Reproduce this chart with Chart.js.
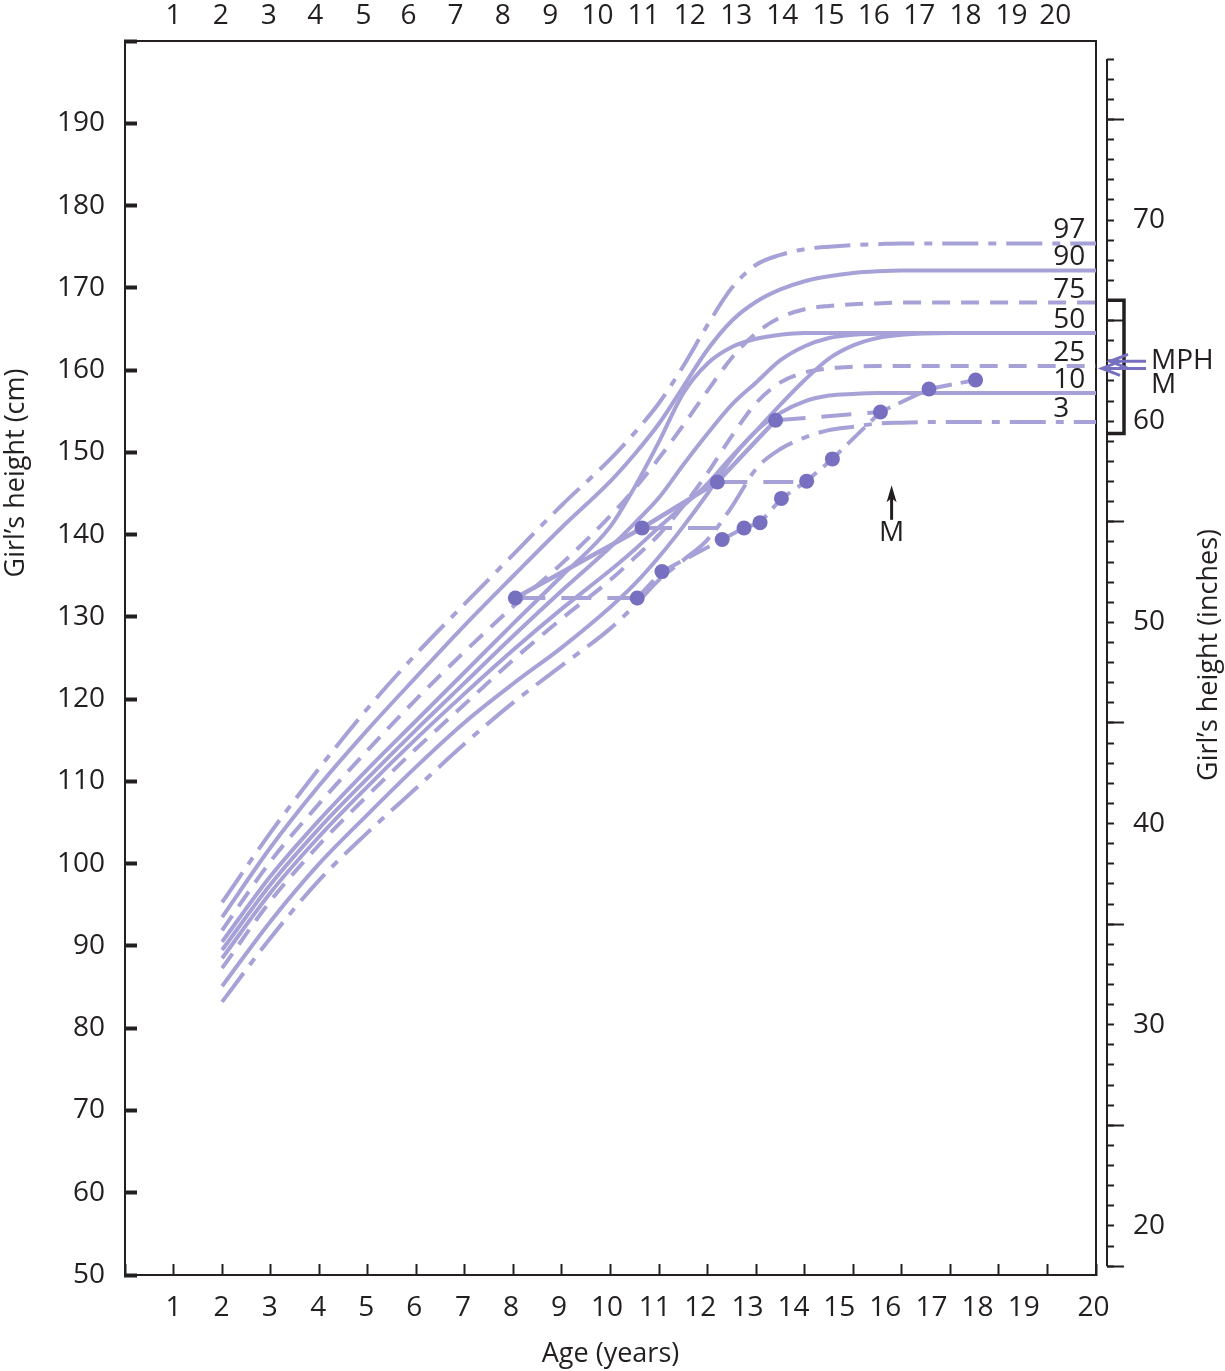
<!DOCTYPE html>
<html lang="en">
<head>
<meta charset="utf-8">
<title>Girl's height chart</title>
<script src="https://cdn.jsdelivr.net/npm/chart.js@4.4.1/dist/chart.umd.min.js"></script>
<style>
  html, body { margin: 0; padding: 0; background: #fff; }
  canvas { display: block; }
</style>
</head>
<body>
<canvas id="heightChart" width="1225" height="1371"></canvas>
<script>
const ages = [2, 3, 4, 5, 6, 7, 8, 9, 10, 10.5, 11, 11.5, 12, 12.5, 13, 13.5, 14, 14.5, 15, 15.5, 16, 17, 18, 20];

// centile curves, height in cm
const p97  = [95.3, 103.8, 111.6, 118.9, 125.5, 131.6, 137.6, 143.6, 149.2, 152.4, 156, 160.5, 165.5, 170, 172.8, 174, 174.7, 175, 175.2, 175.3, 175.4, 175.4, 175.4, 175.4];
const p90  = [93.5, 102, 109.5, 116.3, 122.7, 129, 135, 140.9, 146.5, 149.8, 153.5, 158, 162.5, 166, 168.3, 169.8, 170.8, 171.4, 171.8, 172, 172.1, 172.1, 172.1, 172.1];
const p75  = [91.9, 100.3, 107.3, 113.8, 120, 125.8, 131.3, 136.5, 142.3, 145.6, 149.3, 153.3, 157.5, 161.5, 164.5, 166.4, 167.4, 167.8, 168, 168.1, 168.2, 168.2, 168.2, 168.2];
const p50e = [90.5, 98.5, 105.3, 111.5, 117.4, 123.3, 129.2, 135, 141, 145.8, 151.3, 157.2, 160.8, 162.8, 163.8, 164.3, 164.5, 164.5, 164.5, 164.5, 164.5, 164.5, 164.5, 164.5];
const p50  = [89.5, 97.5, 104.3, 110.4, 116.3, 122, 127.7, 133.2, 138.5, 141.4, 144.5, 148.5, 152.3, 155.8, 158.5, 161.2, 162.9, 163.9, 164.3, 164.4, 164.5, 164.5, 164.5, 164.5];
const p50l = [88.5, 96.5, 103.3, 109.4, 115.2, 120.7, 126, 131, 135.7, 138.2, 140.9, 143.5, 146.2, 149.5, 152.6, 155.8, 158.8, 161.4, 163, 163.9, 164.3, 164.5, 164.5, 164.5];
const p25  = [87.3, 95.5, 102.3, 108.3, 114, 119.4, 124.8, 129.8, 134.5, 137.2, 140, 143.5, 147.5, 152, 156, 158.5, 159.7, 160.2, 160.4, 160.5, 160.5, 160.5, 160.5, 160.5];
const p10  = [85.1, 93, 100, 106, 111.8, 117.2, 121.9, 126.3, 131.2, 134, 137.3, 141, 145, 149.3, 152.6, 154.8, 156.2, 156.9, 157.1, 157.2, 157.2, 157.2, 157.2, 157.2];
const p3   = [83.2, 91, 98, 103.8, 109.2, 114.6, 119.6, 124.1, 128.6, 131.4, 134.5, 136.9, 139.4, 143.4, 148, 150.4, 151.8, 152.7, 153.1, 153.5, 153.6, 153.7, 153.7, 153.7];

const centileNames = ['97', '90', '75', '50', '25', '10', '3'];

// the girl: bone-age points and the visits they were measured at
const boneAge  = [8.04, 10.65, 12.2, 13.4];
const boneHt   = [132.3, 140.8, 146.4, 153.9];
const visitAge = [10.55, 12.37, 14.04, 15.56];
const visitHt  = [132.3, 140.8, 146.4, 154.9];

// the girl: height at chronological age
const chronoAge = [10.55, 11.06, 12.3, 12.75, 13.08, 13.52, 14.04, 14.57, 15.56, 16.56, 17.52];
const chronoHt  = [132.3, 135.5, 139.4, 140.8, 141.45, 144.4, 146.5, 149.2, 154.9, 157.7, 158.8];

// mid-parental height, target height, target range (cm), menarche (years)
const mphCm = 161.06;
const targetCm = 160.2;
const targetRange = [152.3, 168.5];
const menarcheAge = 15.79;

// tick labels
const ageLabels = [1, 2, 3, 4, 5, 6, 7, 8, 9, 10, 11, 12, 13, 14, 15, 16, 17, 18, 19, 20];
const bottomLabelAt = [1, 1.99, 2.98, 3.98, 4.97, 5.96, 6.96, 7.95, 8.94, 9.93, 10.91, 11.85, 12.82, 13.77, 14.71, 15.66, 16.61, 17.56, 18.51, 19.95];
const topLabelAt = [1, 1.97, 2.96, 3.92, 4.91, 5.84, 6.81, 7.78, 8.76, 9.73, 10.68, 11.63, 12.59, 13.54, 14.49, 15.42, 16.36, 17.31, 18.26, 19.16];
const inchLabels = [20, 30, 40, 50, 60, 70];
const inchLong = [18, 25, 35, 45, 55, 65, 75];
const inchEnds = [18, 78];

const LINE = '#a6a2d7';
const DOT = '#7770c0';
const INK = '#231f20';
const FONT = "'Open Sans', 'DejaVu Sans', sans-serif";
const DASH = [18, 11];
const DASHDOT = [36, 10, 8, 10];

Chart.defaults.font.family = FONT;
Chart.defaults.font.size = 28;
Chart.defaults.color = INK;

const pts = (xs, ys) => xs.map((x, i) => ({ x, y: ys[i] }));
const inchStep = [];
for (let v = inchEnds[0]; v <= inchEnds[1]; v++) inchStep.push(v);

// keep the axis boxes at fixed sizes, no extra label padding
const fixBox = (w, h) => s => {
  if (w !== null) s.width = w;
  if (h !== null) s.height = h;
  s.paddingTop = s.paddingBottom = s.paddingLeft = s.paddingRight = 0;
};

const curves = [
  [p97, DASHDOT], [p90, []], [p75, DASH], [p50e, []], [p50, []],
  [p50l, []], [p25, DASH], [p10, []], [p3, DASHDOT]
].map(([v, dash]) => ({
  data: pts(ages, v),
  borderColor: LINE,
  borderWidth: 4,
  borderDash: dash,
  borderCapStyle: 'butt',
  cubicInterpolationMode: 'monotone',
  pointRadius: 0,
  order: 3
}));

const boneLines = boneAge.map((a, i) => ({
  data: [{ x: a, y: boneHt[i] }, { x: visitAge[i], y: visitHt[i] }],
  borderColor: LINE,
  borderWidth: 4,
  borderDash: [30, 16],
  pointRadius: 0,
  order: 2
}));

const patient = [
  {
    data: pts(boneAge, boneHt),
    borderColor: LINE,
    borderWidth: 4.5,
    pointRadius: 7.5,
    pointBackgroundColor: DOT,
    pointBorderWidth: 0,
    order: 1
  },
  {
    data: pts(chronoAge, chronoHt),
    borderColor: LINE,
    borderWidth: 4,
    borderDash: [24, 9],
    pointRadius: 7.5,
    pointBackgroundColor: DOT,
    pointBorderWidth: 0,
    order: 1
  }
];

// labels, titles, inch axis line, bracket and arrows
const annotations = {
  id: 'annotations',
  afterDraw(chart) {
    const { ctx, scales: { x, y, yIn } } = chart;
    ctx.save();
    ctx.fillStyle = INK;
    ctx.textBaseline = 'middle';
    ctx.font = `28px ${FONT}`;

    ctx.textAlign = 'left';
    [p97, p90, p75, p50, p25, p10, p3].forEach((s, i) => {
      ctx.fillText(centileNames[i], x.getPixelForValue(19.12), y.getPixelForValue(s[s.length - 1]) - 13);
    });

    const side = (text, px, py) => {
      ctx.save();
      ctx.translate(px, py);
      ctx.rotate(-Math.PI / 2);
      ctx.textAlign = 'center';
      ctx.fillText(text, 0, 0);
      ctx.restore();
    };
    ctx.font = `27px ${FONT}`;
    side('Girl’s height (cm)', 16, 473);
    side('Girl’s height (inches)', 1209, 655);

    // inch axis line
    const ax = Math.round(x.getPixelForValue(20.23));
    ctx.strokeStyle = INK;
    ctx.lineWidth = 2;
    ctx.beginPath();
    ctx.moveTo(ax, yIn.getPixelForValue(inchEnds[1]));
    ctx.lineTo(ax, yIn.getPixelForValue(inchEnds[0]));
    ctx.stroke();

    // target range bracket
    const bt = y.getPixelForValue(targetRange[1]);
    const bb = y.getPixelForValue(targetRange[0]);
    ctx.lineWidth = 3.5;
    ctx.beginPath();
    ctx.moveTo(ax, bt);
    ctx.lineTo(ax + 17, bt);
    ctx.lineTo(ax + 17, bb);
    ctx.lineTo(ax, bb);
    ctx.stroke();

    // MPH and target arrows
    ctx.strokeStyle = DOT;
    ctx.lineWidth = 3;
    const arrow = (py, tip, tail) => {
      ctx.beginPath();
      ctx.moveTo(tail, py);
      ctx.lineTo(tip, py);
      ctx.moveTo(tip + 18, py - 7);
      ctx.lineTo(tip, py);
      ctx.lineTo(tip + 18, py + 7);
      ctx.stroke();
    };
    const ym = y.getPixelForValue(mphCm);
    const yt = y.getPixelForValue(targetCm);
    arrow(ym, ax + 3, ax + 39);
    arrow(yt, ax - 5, ax + 39);
    ctx.font = `28px ${FONT}`;
    ctx.textAlign = 'left';
    ctx.fillText('MPH', ax + 44, ym);
    ctx.fillText('M', ax + 44, yt + 17);

    // menarche arrow
    const mx = x.getPixelForValue(menarcheAge);
    const tip = y.getPixelForValue(146.0);
    ctx.strokeStyle = INK;
    ctx.fillStyle = INK;
    ctx.lineWidth = 3;
    ctx.beginPath();
    ctx.moveTo(mx, y.getPixelForValue(141.8));
    ctx.lineTo(mx, tip + 8);
    ctx.stroke();
    ctx.beginPath();
    ctx.moveTo(mx, tip);
    ctx.lineTo(mx + 5, tip + 17);
    ctx.lineTo(mx, tip + 13);
    ctx.lineTo(mx - 5, tip + 17);
    ctx.closePath();
    ctx.fill();
    ctx.textAlign = 'center';
    ctx.fillText('M', mx, y.getPixelForValue(140.2));
    ctx.restore();
  }
};

new Chart(document.getElementById('heightChart'), {
  type: 'line',
  data: { datasets: [...patient, ...boneLines, ...curves] },
  options: {
    responsive: false,
    animation: false,
    events: [],
    layout: { padding: 0 },
    plugins: { legend: { display: false }, tooltip: { enabled: false } },
    scales: {
      x: {
        type: 'linear', position: 'bottom', weight: 0,
        min: 0, max: 20,
        ticks: { stepSize: 1, display: false },
        grid: { drawOnChartArea: false, tickLength: -11, tickWidth: 2, tickColor: INK },
        border: { color: INK, width: 2 },
        afterFit: fixBox(null, 0)
      },
      xLab: {
        type: 'linear', position: 'bottom', weight: 1,
        min: 0, max: 20,
        grid: { display: false, drawTicks: false },
        border: { display: false },
        ticks: { padding: 15.8, maxRotation: 0, autoSkip: false, callback: (v, i) => ageLabels[i] },
        afterBuildTicks: s => { s.ticks = bottomLabelAt.map(value => ({ value })); },
        title: { display: true, text: 'Age (years)', font: { size: 27 }, padding: { top: 0, bottom: 0 } },
        afterFit: fixBox(null, 96)
      },
      xTop: {
        type: 'linear', position: 'top',
        min: 0, max: 20,
        grid: { display: false, drawTicks: false },
        border: { color: INK, width: 2 },
        ticks: { padding: 7.8, maxRotation: 0, autoSkip: false, callback: (v, i) => ageLabels[i] },
        afterBuildTicks: s => { s.ticks = topLabelAt.map(value => ({ value })); },
        afterFit: fixBox(null, 41)
      },
      y: {
        type: 'linear', position: 'left',
        min: 50, max: 200,
        ticks: { stepSize: 10, padding: 32, callback: v => (v === 200 ? '' : v) },
        grid: { drawOnChartArea: false, tickLength: -12, tickWidth: 4, tickColor: INK },
        border: { color: INK, width: 2 },
        afterFit: fixBox(125, null)
      },
      yR: {
        type: 'linear', position: 'right',
        min: 17.56, max: 78.9,
        grid: { display: false, drawTicks: false },
        border: { color: INK, width: 2 },
        ticks: { padding: 37, autoSkip: false },
        afterBuildTicks: s => { s.ticks = inchLabels.map(value => ({ value })); },
        afterFit: fixBox(129, null)
      },
      yIn: {
        type: 'linear', position: { x: 20.23 },
        min: 17.56, max: 78.9,
        ticks: { display: false },
        grid: { drawOnChartArea: false, tickLength: -7, tickWidth: 2, tickColor: INK },
        border: { display: false },
        afterBuildTicks: s => { s.ticks = inchStep.map(value => ({ value })); },
        afterFit: fixBox(null, null)
      },
      yIn5: {
        type: 'linear', position: { x: 20.23 },
        min: 17.56, max: 78.9,
        ticks: { display: false },
        grid: { drawOnChartArea: false, tickLength: -17, tickWidth: 2, tickColor: INK },
        border: { display: false },
        afterBuildTicks: s => { s.ticks = inchLong.map(value => ({ value })); },
        afterFit: fixBox(null, null)
      }
    }
  },
  plugins: [annotations]
});
</script>
</body>
</html>
